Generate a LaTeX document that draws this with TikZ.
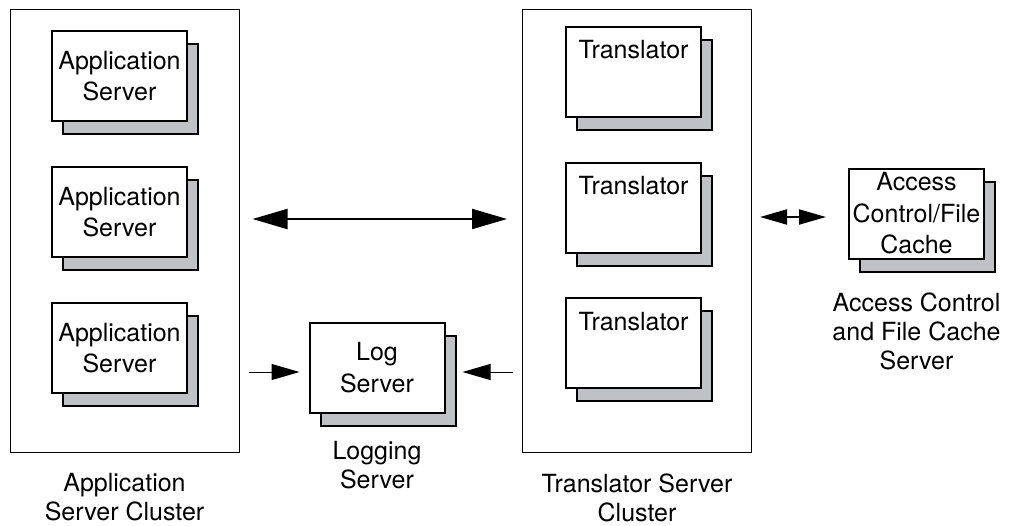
\documentclass[tikz,border=0pt]{standalone}
\usepackage{fontspec}
\setmainfont{TeX Gyre Heros}
\usepackage{tikz}
\usetikzlibrary{arrows.meta, positioning, shadows}
\definecolor{shadegray}{RGB}{192,193,196}

\begin{document}
\begin{tikzpicture}[x=1pt, y=-1pt,
  font=\fontsize{25}{30}\selectfont,
  cluster/.style={draw, line width=1pt, minimum width=229pt, minimum height=443pt},
  server/.style={draw, line width=2pt, fill=white, minimum width=135pt, minimum height=90pt,
    align=center, inner xsep=1pt,
    font=\fontsize{25}{31.5}\selectfont,
    copy shadow={shadow xshift=11pt, shadow yshift=-13pt, fill=shadegray, draw=black, line width=2pt}},
  topserver/.style={server, text height=21pt, text depth=47pt, inner ysep=11pt},
  caption/.style={align=center, inner sep=0pt, font=\fontsize{25}{29}\selectfont},
  bigarrow/.style={line width=2pt, {Triangle[length=35pt,width=20pt]}-{Triangle[length=35pt,width=20pt]}},
  pairarrow/.style={line width=2pt, {Triangle[length=27pt,width=15pt]}-{Triangle[length=27pt,width=15pt]}},
  logarrow/.style={line width=1pt, -{Triangle[length=28pt,width=16pt]}}]
\useasboundingbox (0,0) rectangle (1019,525);

% the two clusters
\node[cluster] (appcl) at (124.5,230.5) {};
\node[cluster] (trcl) at (637,230.5) {};

% application servers
\node[server] (app1) at (119.5,76) {Application\\Server};
\node[server] (app2) at (119.5,212) {Application\\Server};
\node[server] (app3) at (119.5,348) {Application\\Server};

% translators
\node[topserver] (tr1) at (633.5,71.5) {Translator};
\node[topserver] (tr2) at (633.5,207.5) {Translator};
\node[topserver] (tr3) at (633.5,343) {Translator};

\node[server] (log) at (377,367.5) {Log\\Server};
\node[server] (acc) at (916.5,213.5) {Access\\Control/File\\Cache};

% captions
\node[caption, below=21pt of appcl] (appcap) {Application\\Server Cluster};
\node[caption, below=21pt of trcl] (trcap) {Translator Server\\Cluster};
\node[caption, below=28pt of log] (logcap) {Logging\\Server};
\node[caption, below=33pt of acc] (acccap) {Access Control\\and File Cache\\Server};

% connectors
\coordinate (mainrow) at (0,219);
\coordinate (accrow) at (0,217);
\coordinate (logrow) at (0,372);
\draw[bigarrow, shorten <=13pt, shorten >=15pt] (appcl.east |- mainrow) -- (trcl.west |- mainrow);
\draw[pairarrow, shorten <=8pt, shorten >=22pt] (trcl.east |- accrow) -- (acc.west |- accrow);
\draw[logarrow, shorten <=9pt, shorten >=9pt] (appcl.east |- logrow) -- (log.west |- logrow);
\draw[logarrow, shorten <=9pt, shorten >=17pt] (trcl.west |- logrow) -- (log.east |- logrow);
\end{tikzpicture}
\end{document}
